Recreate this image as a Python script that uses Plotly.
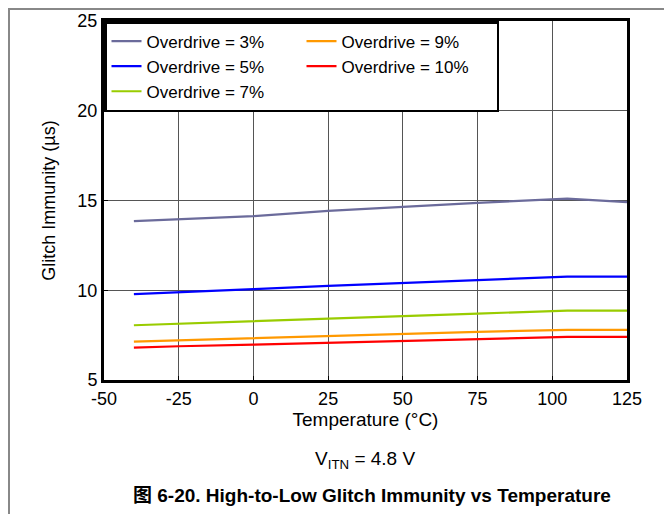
import plotly.graph_objects as go

temperature = [-40, -25, 0, 25, 50, 75, 105, 125]
od3 = [13.85, 13.96, 14.13, 14.42, 14.65, 14.87, 15.11, 14.91]
od5 = [9.78, 9.87, 10.06, 10.24, 10.41, 10.58, 10.76, 10.76]
od7 = [8.05, 8.14, 8.27, 8.44, 8.57, 8.70, 8.87, 8.87]
od9 = [7.14, 7.21, 7.34, 7.47, 7.57, 7.68, 7.79, 7.79]
od10 = [6.80, 6.88, 6.97, 7.08, 7.17, 7.27, 7.40, 7.40]

series_names = ["Overdrive = 3%", "Overdrive = 5%", "Overdrive = 7%",
                "Overdrive = 9%", "Overdrive = 10%"]
series_values = [od3, od5, od7, od9, od10]
series_colors = ["#6b6b9b", "#0000ff", "#99cc00", "#ff9900", "#ff0000"]
legend_ranks = [1, 3, 5, 2, 4]

x_ticks = [-50, -25, 0, 25, 50, 75, 100, 125]
y_ticks = [5, 10, 15, 20, 25]

FONT = "Liberation Sans, Arial, Helvetica, sans-serif"

# figure is drawn with an 8px page offset; layout below is in figure pixels
W, H = 664, 506
L, R, T, B = 96, 45, 13, 134
PW = W - L - R
PH = H - T - B


def px(x):
    return (x - L) / PW


def py(y):
    return (H - B - y) / PH


fig = go.Figure()
for name, vals, col, rank in zip(series_names, series_values, series_colors, legend_ranks):
    fig.add_trace(go.Scatter(x=temperature, y=vals, mode="lines", name=name,
                             line=dict(color=col, width=2.2), legendrank=rank))

fig.update_layout(
    width=W, height=H,
    margin=dict(l=L, r=R, t=T, b=B, autoexpand=False),
    paper_bgcolor="white", plot_bgcolor="white",
    font=dict(family=FONT, size=18, color="black"),
    showlegend=True,
    legend=dict(orientation="h", x=0, y=1, xanchor="left", yanchor="top",
                bgcolor="white", bordercolor="black", borderwidth=2.5,
                font=dict(size=17), entrywidth=150, traceorder="normal"),
    xaxis=dict(range=[-50, 125], tickvals=x_ticks, ticktext=[str(v) for v in x_ticks],
               showgrid=True, gridcolor="#555", gridwidth=1,
               showline=True, linecolor="black", linewidth=3, mirror=True,
               ticks="inside", ticklen=4, tickcolor="black",
               tickfont=dict(size=18),
               title=dict(text="Temperature (°C)", standoff=4, font=dict(size=19)),
               zeroline=False),
    yaxis=dict(range=[5, 25], tickvals=y_ticks, ticktext=[str(v) for v in y_ticks],
               showgrid=True, gridcolor="#555", gridwidth=1,
               showline=True, linecolor="black", linewidth=3, mirror=True,
               ticks="inside", ticklen=4, tickcolor="black",
               tickfont=dict(size=18),
               title=dict(text="Glitch Immunity (µs)", standoff=18, font=dict(size=18)),
               zeroline=False),
    annotations=[
        dict(text="V<sub>ITN</sub> = 4.8 V", xref="paper", yref="paper",
             x=px(357), y=py(452), xanchor="center", yanchor="middle",
             showarrow=False, font=dict(size=19)),
        dict(text="<b>图 6-20. High-to-Low Glitch Immunity vs Temperature</b>",
             xref="paper", yref="paper", x=px(364), y=py(487),
             xanchor="center", yanchor="middle", showarrow=False,
             font=dict(size=19, family="Liberation Sans, Arial, Noto Sans CJK SC")),
    ],
    shapes=[
        dict(type="line", xref="paper", yref="paper",
             x0=px(1), x1=px(1), y0=py(0), y1=py(H),
             line=dict(color="#888", width=2)),
        dict(type="line", xref="paper", yref="paper",
             x0=px(0), x1=px(W), y0=py(1), y1=py(1),
             line=dict(color="#888", width=2)),
    ],
)

fig.write_html("out.html")
